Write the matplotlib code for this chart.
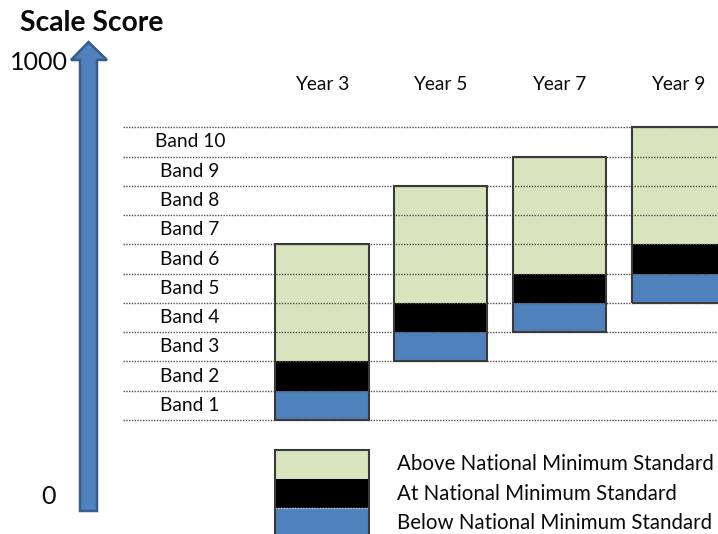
import matplotlib.pyplot as plt
from matplotlib.patches import Polygon
from matplotlib.transforms import Affine2D

plt.rcParams['font.family'] = ['Lato', 'DejaVu Sans']

years = ['Year 3', 'Year 5', 'Year 7', 'Year 9']
below_band = [1, 3, 4, 5]          # band reported as below the minimum standard
at_band = [2, 4, 5, 6]             # band at the minimum standard
top_band = [6, 8, 9, 10]           # highest band reported for each year
band_labels = ['Band %d' % b for b in range(1, 11)]
legend_labels = ['Above National Minimum Standard',
                 'At National Minimum Standard',
                 'Below National Minimum Standard']

GREEN = '#D7E4BD'
BLACK = '#000000'
BLUE = '#4F81BD'
EDGE = '#3a3a3a'
TXT = '#0a0a0a'

W, H = 718, 534
fig = plt.figure(figsize=(W / 100, H / 100), dpi=100)
ax = fig.add_axes([0, 0, 1, 1])
ax.set_xlim(-2.7065, 3.3322)
ax.set_ylim(-3.895, 14.349)
ax.axis('off')

# pixel helper for the decorations (origin top-left)
px = Affine2D().scale(1 / W, -1 / H).translate(0, 1) + fig.transFigure

x = list(range(len(years)))
bw = 0.786

# stacked bars
ax.bar(x, 1, bottom=[b - 1 for b in below_band], width=bw, color=BLUE, zorder=2)
ax.bar(x, 1, bottom=[b - 1 for b in at_band], width=bw, color=BLACK, zorder=2)
ax.bar(x, [t - a for t, a in zip(top_band, at_band)], bottom=at_band,
       width=bw, color=GREEN, zorder=2)

# band grid lines drawn over the bars
ax.hlines(range(len(band_labels) + 1), -1.6745, 3.4, colors='#505050',
          linestyles=(0, (1, 1)), lw=1, zorder=3)

ax.bar(x, [t - b + 1 for t, b in zip(top_band, below_band)],
       bottom=[b - 1 for b in below_band], width=bw, fill=False,
       edgecolor=EDGE, lw=1.5, zorder=4)

for i, b in enumerate(band_labels):
    ax.text(-1.108, i + 0.5, b, ha='center', va='center', fontsize=13.8, color=TXT)

for xi, y in zip(x, years):
    ax.text(xi, 11.445, y, ha='center', va='center', fontsize=13.8, color=TXT)

# legend swatches
leg_top = -1.02
for k, (lab, c) in enumerate(zip(legend_labels, [GREEN, BLACK, BLUE])):
    ax.bar(0, 1, bottom=leg_top - k - 1, width=bw, color=c, zorder=2)
    ax.text(0.632, leg_top - k - 0.5, lab, ha='left', va='center',
            fontsize=14.8, color=TXT)
ax.bar(0, 3, bottom=leg_top - 3, width=bw, fill=False, edgecolor=EDGE,
       lw=1.5, zorder=4)
ax.hlines(leg_top - 2, -bw / 2, bw / 2, colors='#cccccc',
          linestyles=(0, (1, 1)), lw=1, zorder=3)

# scale arrow
arrow = Polygon([(80, 511), (97, 511), (97, 60), (107, 60), (88.5, 42),
                 (71, 60), (80, 60)], closed=True, facecolor=BLUE,
                edgecolor='#385D8A', lw=1.8, transform=px, zorder=5)
fig.add_artist(arrow)

fig.text(20, 23, 'Scale Score', transform=px, ha='left', va='center',
         fontsize=20.3, fontweight='bold', color=TXT)
fig.text(68, 62, '1000', transform=px, ha='right', va='center',
         fontsize=18, color=TXT)
fig.text(48.5, 497, '0', transform=px, ha='center', va='center',
         fontsize=18, color=TXT)

fig.savefig('out.png', dpi=100)
